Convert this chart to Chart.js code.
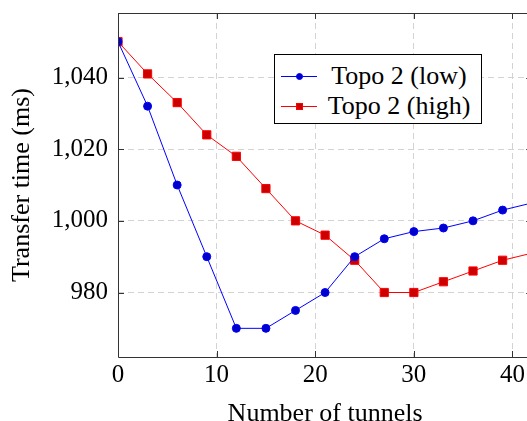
<!DOCTYPE html>
<html>
<head>
<meta charset="utf-8">
<script src="https://cdn.jsdelivr.net/npm/chart.js@4/dist/chart.umd.min.js"></script>
<style>
  html, body { margin: 0; padding: 0; background: #fff; overflow: hidden; width: 527px; height: 421px; }
  #wrap { position: relative; width: 539px; height: 421px; }
  #c { position: absolute; left: 0; top: 0; }
  #legend { position: absolute; left: 274px; top: 54px; width: 206px; height: 68px;
            border: 1px solid #000; background: #fff; font-family: "Liberation Serif", serif; font-size: 26px; color: #000; }
  .row { position: absolute; left: 0; width: 206px; height: 30px; }
  .ln { position: absolute; left: 6px; width: 36px; height: 1px; top: 15px; }
  .mk { position: absolute; width: 7px; height: 7px; left: 21px; top: 12px; box-sizing: border-box; }
  .tx { position: absolute; left: 46px; right: 4px; top: 0; height: 30px; line-height: 30px; text-align: center; white-space: nowrap; }
</style>
</head>
<body>
<div id="wrap">
  <canvas id="c" width="539" height="421"></canvas>
  <div id="legend"></div>
</div>
<script>
// ---- data ----
const tunnels = [0, 3, 6, 9, 12, 15, 18, 21, 24, 27, 30, 33, 36, 39, 42];
const topoLow = [1050, 1032, 1010, 990, 970, 970, 975, 980, 990, 995, 997, 998, 1000, 1003, 1005];
const topoHigh = [1050, 1041, 1033, 1024, 1018, 1009, 1000, 996, 989, 980, 980, 983, 986, 989, 991];
const seriesNames = ["Topo 2 (low)", "Topo 2 (high)"];
const xTickValues = [0, 10, 20, 30, 40];
const yTickValues = [980, 1000, 1020, 1040];
const xTitle = "Number of tunnels";
const yTitle = "Transfer time (ms)";

// ---- styles ----
const FONT = "'Liberation Serif', serif";
const styles = [
  { line: "#0000ff", fill: "#0000cc", shape: "circle", r: 4 },
  { line: "#ff0000", fill: "#cc0000", shape: "rect", r: 5.8 }
];

const datasets = [topoLow, topoHigh].map((vals, i) => ({
  label: seriesNames[i],
  data: tunnels.map((x, j) => ({ x: x, y: vals[j] })),
  borderColor: styles[i].line,
  backgroundColor: styles[i].fill,
  borderWidth: 1,
  pointStyle: styles[i].shape,
  pointRadius: styles[i].r,
  pointBackgroundColor: styles[i].fill,
  pointBorderColor: styles[i].line,
  pointBorderWidth: 1,
  tension: 0
}));

// frame + inward ticks like pgfplots
const framePlugin = {
  id: "frame",
  afterDraw(chart) {
    const ctx = chart.ctx, a = chart.chartArea;
    const xs = chart.scales.x, ys = chart.scales.y;
    const L = 6;
    ctx.save();
    ctx.strokeStyle = "#333";
    ctx.lineWidth = 1;
    ctx.beginPath();
    ctx.rect(Math.round(a.left) + 0.5, Math.round(a.top) + 0.5, Math.round(a.right - a.left), Math.round(a.bottom - a.top));
    xTickValues.forEach(v => {
      const px = Math.round(xs.getPixelForValue(v)) + 0.5;
      ctx.moveTo(px, a.bottom); ctx.lineTo(px, a.bottom - L);
      ctx.moveTo(px, a.top); ctx.lineTo(px, a.top + L);
    });
    yTickValues.forEach(v => {
      const py = Math.round(ys.getPixelForValue(v)) + 0.5;
      ctx.moveTo(a.left, py); ctx.lineTo(a.left + L, py);
      ctx.moveTo(a.right, py); ctx.lineTo(a.right - L, py);
    });
    ctx.stroke();
    ctx.restore();
  }
};

const noPad = s => { s.paddingLeft = 0; s.paddingRight = 0; s.paddingTop = 0; s.paddingBottom = 0; };

new Chart(document.getElementById("c"), {
  type: "line",
  data: { datasets },
  options: {
    responsive: false,
    animation: false,
    devicePixelRatio: 1,
    layout: { padding: { top: 13, right: 1, bottom: 0, left: 0 } },
    plugins: { legend: { display: false }, tooltip: { enabled: false } },
    scales: {
      x: {
        type: "linear",
        min: 0, max: 42,
        afterBuildTicks: s => { s.ticks = xTickValues.map(v => ({ value: v })); },
        afterFit: s => { s.height = 64; noPad(s); },
        ticks: { font: { family: FONT, size: 25 }, color: "#000", padding: 3, maxRotation: 0, autoSkip: false },
        grid: { color: "#d3d3d3", lineWidth: 1, drawTicks: false },
        border: { display: false, dash: [6, 4] },
        title: { display: true, text: xTitle, color: "#000", font: { family: FONT, size: 26 }, padding: { top: 0, bottom: -8.5 } }
      },
      y: {
        type: "linear",
        min: 962, max: 1058,
        afterBuildTicks: s => { s.ticks = yTickValues.map(v => ({ value: v })); },
        afterFit: s => { s.width = 118; noPad(s); },
        ticks: { font: { family: FONT, size: 25 }, color: "#000", padding: 10,
                 callback: v => v.toLocaleString("en-US") },
        grid: { color: "#d3d3d3", lineWidth: 1, drawTicks: false },
        border: { display: false, dash: [6, 4] },
        title: { display: true, text: yTitle, color: "#000", font: { family: FONT, size: 26 }, padding: { top: 6.4, bottom: 0 } }
      }
    }
  },
  plugins: [framePlugin]
});

// legend (HTML)
const legend = document.getElementById("legend");
seriesNames.forEach((name, i) => {
  const row = document.createElement("div");
  row.className = "row";
  row.style.top = (i === 0 ? 6 : 36) + "px";
  const ln = document.createElement("div"); ln.className = "ln"; ln.style.background = styles[i].line;
  const mk = document.createElement("div"); mk.className = "mk";
  mk.style.background = styles[i].fill; mk.style.border = "1px solid " + styles[i].line;
  if (styles[i].shape === "circle") mk.style.borderRadius = "50%";
  const tx = document.createElement("div"); tx.className = "tx"; tx.textContent = name;
  row.appendChild(ln); row.appendChild(mk); row.appendChild(tx);
  legend.appendChild(row);
});
</script>
</body>
</html>
